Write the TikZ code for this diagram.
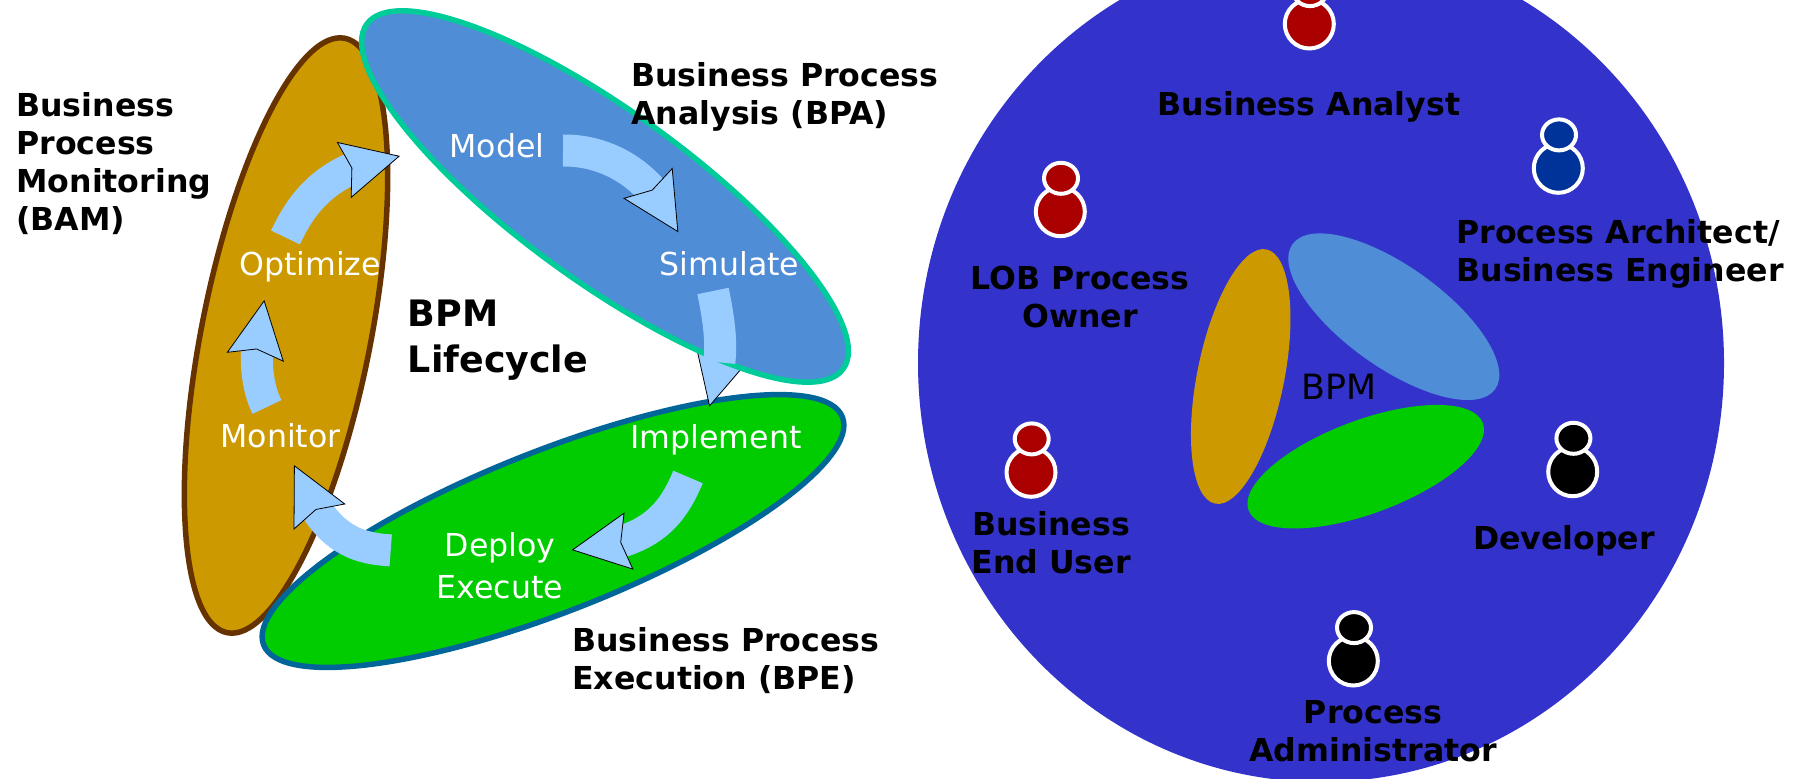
\documentclass[tikz,border=0pt]{standalone}
\usepackage{fontspec}
\setmainfont{DejaVu Sans}
\usetikzlibrary{arrows.meta,bending,positioning}
\definecolor{bpmbrown}{RGB}{204,153,0}
\definecolor{bpmbrownline}{RGB}{102,51,0}
\definecolor{bpmblue}{RGB}{79,141,214}
\definecolor{bpmteal}{RGB}{0,204,153}
\definecolor{bpmgreen}{RGB}{0,204,0}
\definecolor{bpmgreenline}{RGB}{0,102,153}
\definecolor{bpmsky}{RGB}{153,204,255}
\definecolor{rolecircle}{RGB}{51,51,204}
\definecolor{rolered}{RGB}{170,0,0}
\definecolor{roleblue}{RGB}{0,51,153}
\tikzset{
  phasetext/.style={text=white, inner sep=0pt, align=center, font=\fontsize{15.8}{21}\selectfont},
  boldtext/.style={text=black, inner sep=0pt, font=\bfseries\fontsize{15.8}{19}\selectfont},
  blockarrow/.style={draw=bpmsky, line width=16pt,
    -{Stealth[flex,length=29pt,width=29pt,inset=4pt,fill=bpmsky,color=black,line width=0.4pt]}},
}
\begin{document}
\begin{tikzpicture}[x=0.5pt,y=-0.5pt]
\clip (0,0) rectangle (1802,779);
% Lifecycle ellipses
\draw[bpmbrownline, fill=bpmbrown, line width=2.75pt, rotate around={78.8:(286,335.5)}] (286,335.5) ellipse [x radius=303, y radius=84.5];
\draw[bpmgreenline, fill=bpmgreen, line width=2.75pt, rotate around={21.5:(553,531)}] (553,531) ellipse [x radius=311, y radius=80.5];
% Arrow ends
\coordinate (model-out) at (563,150.5);
\coordinate (simulate-in) at (678.3,232.3);
\coordinate (simulate-out) at (713,291);
\coordinate (implement-in) at (709.3,406.7);
\coordinate (shaft-end) at (719.3,362.3);
\coordinate (implement-out) at (688,477);
\coordinate (deploy-in) at (571.7,550);
\coordinate (deploy-out) at (390.7,550.4);
\coordinate (monitor-in) at (294,465);
\coordinate (monitor-out) at (267,407);
\coordinate (optimize-in) at (264.3,300);
\coordinate (optimize-out) at (285.5,237.5);
\coordinate (model-in) at (400,156);
% Head of this arrow lies under the blue ellipse
\draw[blockarrow] (simulate-out) .. controls (722,320) and (728,360) .. (implement-in);
\draw[bpmteal, fill=bpmblue, line width=2.75pt, rotate around={-35.9:(605,196.5)}] (605,196.5) ellipse [x radius=294, y radius=85];
\draw[bpmsky, line width=16pt] (simulate-out) .. controls (718,315) and (722,340) .. (shaft-end);
% Other arrows
\draw[blockarrow] (model-out) .. controls (600,150) and (650,168) .. (simulate-in);
\draw[blockarrow] (implement-out) .. controls (672,515) and (650,545) .. (deploy-in);
\draw[blockarrow] (deploy-out) .. controls (350,548) and (322,535) .. (monitor-in);
\draw[blockarrow] (monitor-out) .. controls (256,385) and (252,350) .. (optimize-in);
\draw[blockarrow] (optimize-out) .. controls (303,200) and (330,165) .. (model-in);
% Phase names
\node[phasetext] (model) at (497,146) {Model};
\node[phasetext] (simulate) at (729.5,264) {Simulate};
\node[phasetext] (optimize) at (310,267) {Optimize};
\node[phasetext] (monitor) at (280.5,435.5) {Monitor};
\node[phasetext] (implement) at (716,440) {Implement};
\node[phasetext] (deploy) at (500,566) {Deploy\\Execute};
% Outer labels
\node[boldtext, align=left, anchor=west] (bpa) at (631,96.6) {Business Process\\Analysis (BPA)};
\node[boldtext, align=left, anchor=west] (bam) at (16,163.5) {Business\\Process\\Monitoring\\(BAM)};
\node[boldtext, align=left, anchor=west] (bpe) at (572,661) {Business Process\\Execution (BPE)};
\node[text=black, inner sep=0pt, align=left, anchor=west, font=\bfseries\fontsize{18.2}{23}\selectfont] (lifecycle) at (407.5,340) {BPM\\Lifecycle};
% Roles circle
\fill[rolecircle] (1321,363) ellipse [x radius=403, y radius=419];
\fill[bpmbrown, rotate around={78.6:(1240.7,376.5)}] (1240.7,376.5) ellipse [x radius=129.7, y radius=43.5];
\fill[bpmblue, rotate around={-35.6:(1393.8,316.7)}] (1393.8,316.7) ellipse [x radius=124.6, y radius=50.4];
\fill[bpmgreen, rotate around={20.4:(1365.7,466.7)}] (1365.7,466.7) ellipse [x radius=125, y radius=46.7];
\node[text=black, inner sep=0pt, font=\fontsize{17.4}{21}\selectfont] (bpm) at (1339,387) {BPM};
% People
\foreach \px/\py/\pcol in {1309.3/24/rolered, 1060.3/211.7/rolered, 1031/472.3/rolered, 1558.3/168.3/roleblue, 1572.7/471.7/black, 1353.3/661/black} {
  \draw[white, fill=\pcol, line width=2pt] (\px,\py) circle [radius=24.5];
  \draw[white, fill=\pcol, line width=2pt] (\px+0.7,\py-33.4) ellipse [x radius=17, y radius=15.5];
}
% Role names
\node[boldtext] (analyst) at (1309,106.5) {Business Analyst};
\node[boldtext, align=center] (owner) at (1080,296.6) {LOB Process\\Owner};
\node[boldtext, align=left, anchor=west] (architect) at (1456,254) {Process Architect/\\Business Engineer};
\node[boldtext, align=center] (enduser) at (1051,543) {Business\\End User};
\node[boldtext] (developer) at (1564,540.5) {Developer};
\node[boldtext, align=center] (administrator) at (1373,731) {Process\\Administrator};
\end{tikzpicture}
\end{document}
